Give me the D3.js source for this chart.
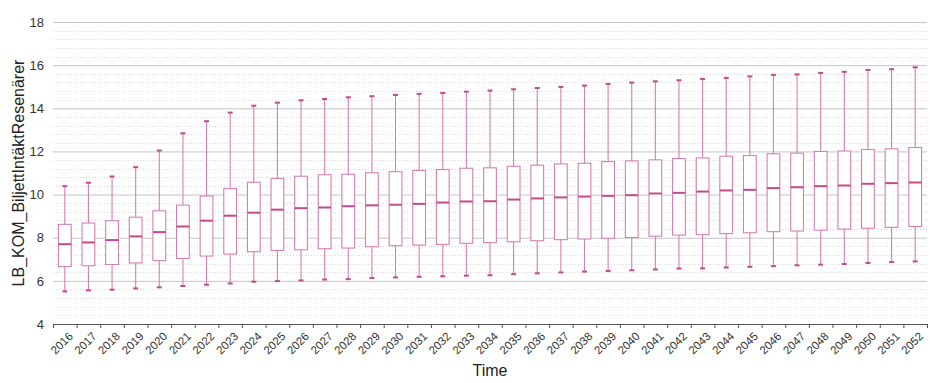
<!DOCTYPE html>
<html>
<head>
<meta charset="utf-8">
<script src="https://cdn.jsdelivr.net/npm/d3@7"></script>
<style>
  body { margin: 0; background: #fff; }
  svg { font-family: "Liberation Sans", Arial, sans-serif; }
</style>
</head>
<body>
<svg id="chart" width="945" height="383"></svg>
<script>
// values
var years = d3.range(2016, 2053).map(String);
var whiskerLow = [5.51, 5.56, 5.59, 5.65, 5.70, 5.76, 5.82, 5.88, 5.96, 5.99, 6.02, 6.06, 6.08, 6.13, 6.16, 6.19, 6.21, 6.24,
                  6.26, 6.31, 6.35, 6.39, 6.43, 6.46, 6.49, 6.53, 6.57, 6.58, 6.62, 6.65, 6.68, 6.72, 6.75, 6.78, 6.83, 6.87, 6.90];
var q1 = [6.66, 6.70, 6.76, 6.83, 6.94, 7.04, 7.15, 7.24, 7.35, 7.41, 7.44, 7.49, 7.52, 7.58, 7.63, 7.66, 7.69, 7.74,
          7.77, 7.81, 7.86, 7.91, 7.94, 7.97, 8.01, 8.07, 8.12, 8.14, 8.19, 8.23, 8.28, 8.31, 8.35, 8.40, 8.44, 8.48, 8.52];
var median = [7.70, 7.78, 7.89, 8.06, 8.26, 8.52, 8.79, 9.02, 9.16, 9.30, 9.37, 9.40, 9.46, 9.50, 9.53, 9.57, 9.63, 9.68,
              9.69, 9.77, 9.82, 9.87, 9.91, 9.94, 9.97, 10.05, 10.08, 10.14, 10.19, 10.22, 10.30, 10.34, 10.39, 10.42, 10.50, 10.53, 10.56];
var q3 = [8.62, 8.68, 8.79, 8.95, 9.25, 9.51, 9.93, 10.28, 10.57, 10.75, 10.85, 10.92, 10.94, 11.01, 11.06, 11.12, 11.16, 11.22,
          11.24, 11.31, 11.36, 11.42, 11.45, 11.53, 11.56, 11.61, 11.67, 11.70, 11.78, 11.81, 11.89, 11.92, 12.00, 12.02, 12.09, 12.12, 12.18];
var whiskerHigh = [10.39, 10.55, 10.84, 11.27, 12.04, 12.84, 13.40, 13.80, 14.12, 14.26, 14.37, 14.43, 14.51, 14.56, 14.62, 14.67, 14.71, 14.77,
                   14.82, 14.88, 14.94, 14.99, 15.05, 15.13, 15.19, 15.25, 15.30, 15.36, 15.41, 15.48, 15.55, 15.57, 15.64, 15.69, 15.78, 15.81, 15.90];
var yTicks = [4, 6, 8, 10, 12, 14, 16, 18];

var margin = {top: 22, right: 18, bottom: 59, left: 53};
var width = 945 - margin.left - margin.right;
var height = 383 - margin.top - margin.bottom;

var boxColor = "#d67fb2";
var medianColor = "#c4498a";

var svg = d3.select("#chart");
var g = svg.append("g").attr("transform", "translate(" + margin.left + "," + margin.top + ")");

var x = d3.scaleBand().domain(years).range([0, width]).padding(0);
var y = d3.scaleLinear().domain([4, 18]).range([height, 0]);

var data = years.map(function(d, i) {
    return {year: d, lo: whiskerLow[i], q1: q1[i], med: median[i], q3: q3[i], hi: whiskerHigh[i]};
});

// minor dotted grid
g.append("g").selectAll("line")
    .data(d3.range(4, 18.01, 0.4).filter(function(v) { return Math.abs(v / 2 - Math.round(v / 2)) > 0.01; }))
    .enter().append("line")
    .attr("x1", 0).attr("x2", width)
    .attr("y1", function(d) { return Math.round(y(d)) + 0.5; })
    .attr("y2", function(d) { return Math.round(y(d)) + 0.5; })
    .attr("stroke", "#d6d6d6")
    .attr("stroke-dasharray", "1,2");

// major grid + y axis
var yAxis = g.append("g")
    .call(d3.axisLeft(y).tickValues(yTicks).tickSize(-width).tickPadding(9));
yAxis.select(".domain").remove();
yAxis.selectAll(".tick line").attr("stroke", "#c4c4c4");
yAxis.selectAll(".tick text").attr("fill", "#333").style("font-size", "13px");

// x axis: ticks at band edges
var xEdge = d3.scaleLinear().domain([0, years.length]).range([0, width]);
var xAxis = g.append("g")
    .attr("transform", "translate(0," + height + ")")
    .call(d3.axisBottom(xEdge).tickValues(d3.range(0, years.length + 1)).tickFormat("").tickSize(4));
xAxis.select(".domain").attr("stroke", "#555");
xAxis.selectAll(".tick line").attr("stroke", "#555");

g.append("g").selectAll("text")
    .data(years)
    .enter().append("text")
    .attr("transform", function(d) {
        return "translate(" + (x(d) + x.bandwidth() / 2 + 6) + "," + (height + 10) + ") rotate(-45)";
    })
    .attr("text-anchor", "end")
    .attr("dy", "0.35em")
    .attr("fill", "#333")
    .style("font-size", "11.5px")
    .text(function(d) { return d; });

// boxes
var boxW = x.bandwidth() * 0.54;
var capW = 5;
var box = g.append("g").selectAll("g")
    .data(data)
    .enter().append("g")
    .attr("transform", function(d) { return "translate(" + (x(d.year) + x.bandwidth() / 2) + ",0)"; });

box.append("line")
    .attr("x1", 0).attr("x2", 0)
    .attr("y1", function(d) { return y(d.hi); })
    .attr("y2", function(d) { return y(d.lo); })
    .attr("stroke", boxColor).attr("stroke-width", 1.1);

box.append("rect")
    .attr("x", -boxW / 2)
    .attr("width", boxW)
    .attr("y", function(d) { return y(d.q3); })
    .attr("height", function(d) { return y(d.q1) - y(d.q3); })
    .attr("fill", "#fff")
    .attr("stroke", boxColor).attr("stroke-width", 1.1);

box.selectAll(".cap")
    .data(function(d) { return [d.lo, d.hi]; })
    .enter().append("line")
    .attr("class", "cap")
    .attr("x1", -capW / 2).attr("x2", capW / 2)
    .attr("y1", function(v) { return y(v); })
    .attr("y2", function(v) { return y(v); })
    .attr("stroke", medianColor).attr("stroke-width", 2);

box.append("line")
    .attr("x1", -boxW / 2).attr("x2", boxW / 2)
    .attr("y1", function(d) { return y(d.med); })
    .attr("y2", function(d) { return y(d.med); })
    .attr("stroke", medianColor).attr("stroke-width", 2);

// axis titles
svg.append("text")
    .attr("transform", "translate(24," + (margin.top + height / 2) + ") rotate(-90)")
    .attr("text-anchor", "middle")
    .attr("fill", "#222")
    .style("font-size", "16px")
    .text("LB_KOM_BiljettIntäktResenärer");

svg.append("text")
    .attr("x", margin.left + width / 2)
    .attr("y", 376)
    .attr("text-anchor", "middle")
    .attr("fill", "#222")
    .style("font-size", "16px")
    .text("Time");
</script>
</body>
</html>
